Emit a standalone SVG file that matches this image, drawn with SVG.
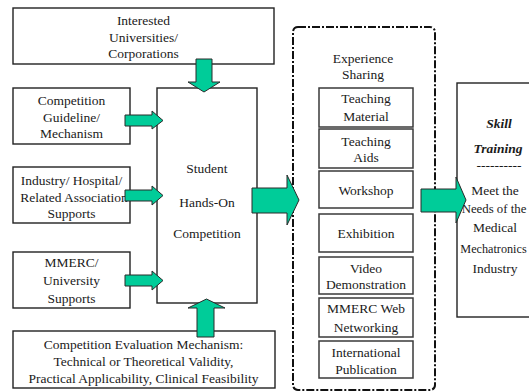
<svg xmlns="http://www.w3.org/2000/svg" width="529" height="392" viewBox="0 0 529 392">
  <style>
    .box { fill: #ffffff; stroke: #222222; stroke-width: 1.4; }
    .inner { fill: #ffffff; stroke: #3a3a3a; stroke-width: 1.5; }
    .frame { fill: none; stroke: #111111; stroke-width: 2; stroke-dasharray: 8 2 2 2; }
    .arrow { fill: #00CC99; stroke: #2a2a2a; stroke-width: 1; }
  </style>
  <rect width="529" height="392" fill="#ffffff"/>

  <g id="interested">
    <rect class="box" x="13" y="8" width="261" height="56"/>
    <text font-family="Liberation Serif" font-size="13.5" text-anchor="middle" fill="#1a1a1a" x="143.5" y="24.5">Interested</text>
    <text font-family="Liberation Serif" font-size="13.5" text-anchor="middle" fill="#1a1a1a" x="143.5" y="41.5">Universities/</text>
    <text font-family="Liberation Serif" font-size="13.5" text-anchor="middle" fill="#1a1a1a" x="143.5" y="57.5">Corporations</text>
  </g>

  <g id="guideline">
    <rect class="box" x="13" y="88" width="117" height="56"/>
    <text font-family="Liberation Serif" font-size="13.5" text-anchor="middle" fill="#1a1a1a" x="71.5" y="104.5">Competition</text>
    <text font-family="Liberation Serif" font-size="13.5" text-anchor="middle" fill="#1a1a1a" x="71.5" y="121.5">Guideline/</text>
    <text font-family="Liberation Serif" font-size="13.5" text-anchor="middle" fill="#1a1a1a" x="71.5" y="137.5">Mechanism</text>
  </g>

  <g id="industry">
    <rect class="box" x="13" y="167" width="117" height="56"/>
    <text font-family="Liberation Serif" font-size="13.5" text-anchor="middle" fill="#1a1a1a" x="71.5" y="184.5">Industry/ Hospital/</text>
    <text font-family="Liberation Serif" font-size="13.5" text-anchor="middle" fill="#1a1a1a" x="74" y="201.5">Related Association</text>
    <text font-family="Liberation Serif" font-size="13.5" text-anchor="middle" fill="#1a1a1a" x="71.5" y="217.5">Supports</text>
  </g>

  <g id="mmerc">
    <rect class="box" x="13" y="252" width="117" height="56"/>
    <text font-family="Liberation Serif" font-size="13.5" text-anchor="middle" fill="#1a1a1a" x="71.5" y="266.5">MMERC/</text>
    <text font-family="Liberation Serif" font-size="13.5" text-anchor="middle" fill="#1a1a1a" x="71.5" y="284.5">University</text>
    <text font-family="Liberation Serif" font-size="13.5" text-anchor="middle" fill="#1a1a1a" x="71.5" y="302.5">Supports</text>
  </g>

  <g id="student">
    <rect class="box" x="157" y="88" width="100" height="215"/>
    <text font-family="Liberation Serif" font-size="13.5" text-anchor="middle" fill="#1a1a1a" x="207" y="172.5">Student</text>
    <text font-family="Liberation Serif" font-size="13.5" text-anchor="middle" fill="#1a1a1a" x="207" y="206.5">Hands-On</text>
    <text font-family="Liberation Serif" font-size="13.5" text-anchor="middle" fill="#1a1a1a" x="207" y="237.5">Competition</text>
  </g>

  <g id="evaluation">
    <rect class="box" x="13" y="331" width="262" height="57"/>
    <text font-family="Liberation Serif" font-size="13.5" text-anchor="middle" fill="#1a1a1a" x="143.5" y="348.5">Competition Evaluation Mechanism:</text>
    <text font-family="Liberation Serif" font-size="13.5" text-anchor="middle" fill="#1a1a1a" x="143.5" y="366">Technical or Theoretical Validity,</text>
    <text font-family="Liberation Serif" font-size="13.5" text-anchor="middle" fill="#1a1a1a" x="143.5" y="382.5">Practical Applicability, Clinical Feasibility</text>
  </g>

  <g id="experience">
    <!-- dash-dot frame round the sharing activities -->
    <rect class="frame" x="293" y="27" width="142" height="363" rx="5"/>
    <text font-family="Liberation Serif" font-size="13.5" text-anchor="middle" fill="#1a1a1a" x="363" y="62.5">Experience</text>
    <text font-family="Liberation Serif" font-size="13.5" text-anchor="middle" fill="#1a1a1a" x="363" y="78.5">Sharing</text>
    <g id="teaching-material">
      <rect class="inner" x="319" y="88" width="94" height="39"/>
      <text font-family="Liberation Serif" font-size="13.5" text-anchor="middle" fill="#1a1a1a" x="366" y="102.5">Teaching</text>
      <text font-family="Liberation Serif" font-size="13.5" text-anchor="middle" fill="#1a1a1a" x="366" y="120.5">Material</text>
    </g>
    <g id="teaching-aids">
      <rect class="inner" x="319" y="129" width="94" height="39"/>
      <text font-family="Liberation Serif" font-size="13.5" text-anchor="middle" fill="#1a1a1a" x="366" y="145.5">Teaching</text>
      <text font-family="Liberation Serif" font-size="13.5" text-anchor="middle" fill="#1a1a1a" x="366" y="161.5">Aids</text>
    </g>
    <g id="workshop">
      <rect class="inner" x="319" y="171" width="94" height="37"/>
      <text font-family="Liberation Serif" font-size="13.5" text-anchor="middle" fill="#1a1a1a" x="366" y="194.5">Workshop</text>
    </g>
    <g id="exhibition">
      <rect class="inner" x="319" y="214" width="94" height="38"/>
      <text font-family="Liberation Serif" font-size="13.5" text-anchor="middle" fill="#1a1a1a" x="366" y="237.5">Exhibition</text>
    </g>
    <g id="video">
      <rect class="inner" x="319" y="257" width="94" height="37"/>
      <text font-family="Liberation Serif" font-size="13.5" text-anchor="middle" fill="#1a1a1a" x="366" y="272.5">Video</text>
      <text font-family="Liberation Serif" font-size="13.5" text-anchor="middle" fill="#1a1a1a" x="366" y="288.5">Demonstration</text>
    </g>
    <g id="web">
      <rect class="inner" x="319" y="298" width="94" height="39"/>
      <text font-family="Liberation Serif" font-size="13.5" text-anchor="middle" fill="#1a1a1a" x="366" y="312.5">MMERC Web</text>
      <text font-family="Liberation Serif" font-size="13.5" text-anchor="middle" fill="#1a1a1a" x="366" y="331.5">Networking</text>
    </g>
    <g id="publication">
      <rect class="inner" x="319" y="341" width="94" height="37"/>
      <text font-family="Liberation Serif" font-size="13.5" text-anchor="middle" fill="#1a1a1a" x="366" y="356.5">International</text>
      <text font-family="Liberation Serif" font-size="13.5" text-anchor="middle" fill="#1a1a1a" x="366" y="373.5">Publication</text>
    </g>
  </g>

  <g id="skill">
    <rect class="box" x="457" y="83" width="90" height="234"/>
    <text font-family="Liberation Serif" font-size="13.5" font-weight="bold" font-style="italic" text-anchor="middle" fill="#1a1a1a" x="499" y="127.5">Skill</text>
    <text font-family="Liberation Serif" font-size="13.5" font-weight="bold" font-style="italic" text-anchor="middle" fill="#1a1a1a" x="498" y="152.5">Training</text>
    <text font-family="Liberation Serif" font-size="13.5" text-anchor="middle" fill="#1a1a1a" x="499" y="170">----------</text>
    <text font-family="Liberation Serif" font-size="13.5" text-anchor="middle" fill="#1a1a1a" x="495" y="194.5">Meet the</text>
    <text font-family="Liberation Serif" font-size="12.8" text-anchor="middle" fill="#1a1a1a" x="494" y="212.5">Needs of the</text>
    <text font-family="Liberation Serif" font-size="13.5" text-anchor="middle" fill="#1a1a1a" x="495" y="231.5">Medical</text>
    <text font-family="Liberation Serif" font-size="12.2" text-anchor="middle" fill="#1a1a1a" x="493.5" y="252.5">Mechatronics</text>
    <text font-family="Liberation Serif" font-size="13.5" text-anchor="middle" fill="#1a1a1a" x="495" y="272.5">Industry</text>
  </g>

  <g id="connectors">
    <!-- down from the top box -->
    <path class="arrow" d="M196,59 H212 V82 H220 L204,92 L188,82 H196 Z"/>
    <!-- into the competition from the left -->
    <path class="arrow" d="M125,115 H152 V111 L163,120.5 L152,129 V126 H125 Z"/>
    <path class="arrow" d="M125,190 H152 V186 L163,195.5 L152,205 V201 H125 Z"/>
    <path class="arrow" d="M125,275 H152 V271 L163,280.5 L152,290 V286 H125 Z"/>
    <!-- up from the evaluation box -->
    <path class="arrow" d="M197,337 V308 H188 L206.5,299 L225,308 H214 V337 Z"/>
    <!-- competition to experience sharing -->
    <path class="arrow" d="M252,188 H287 V175 L299,200 L287,225 V213 H252 Z"/>
    <!-- experience sharing to skill training -->
    <path class="arrow" d="M421,189 H456 V177 L466,200 L456,223 V212 H421 Z"/>
  </g>
</svg>
